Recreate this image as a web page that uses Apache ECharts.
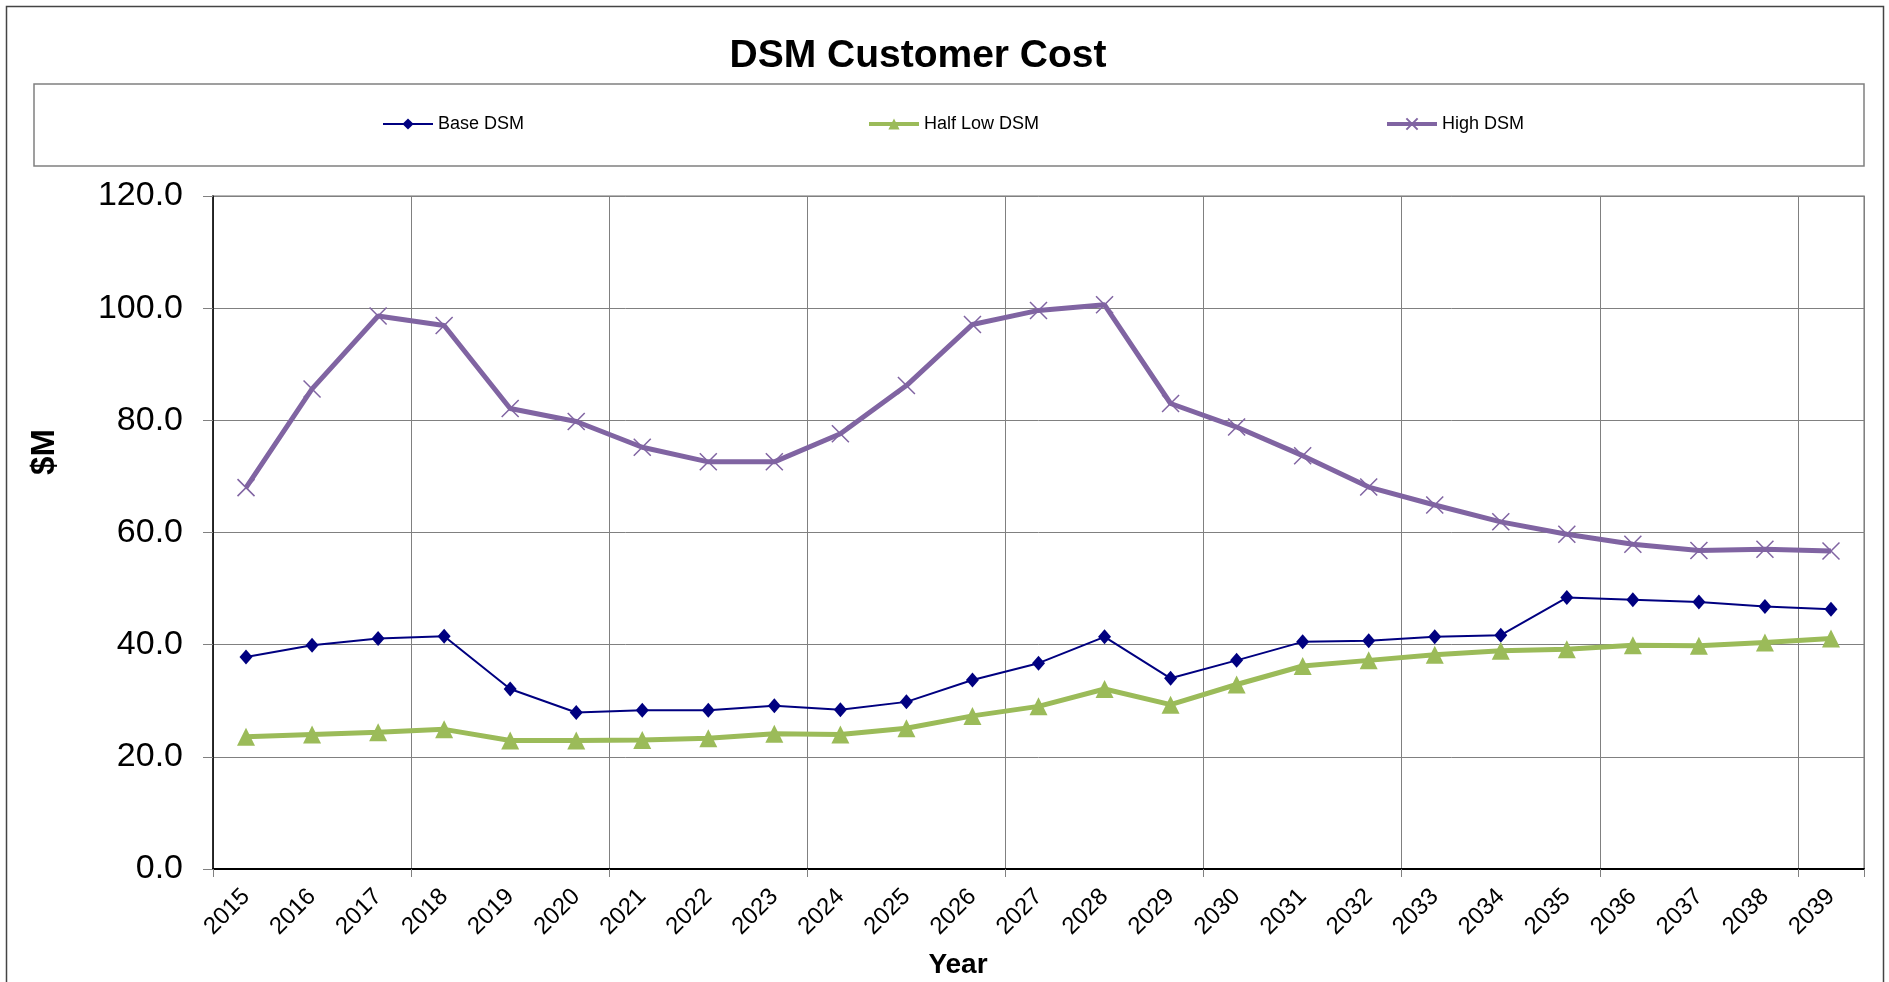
<!DOCTYPE html>
<html>
<head>
<meta charset="utf-8">
<title>DSM Customer Cost</title>
<script src="https://cdn.jsdelivr.net/npm/echarts@6/dist/echarts.min.js"></script>
<style>
  html, body { margin: 0; padding: 0; background: #fff; }
  #chart { width: 1889px; height: 982px; }
</style>
</head>
<body>
<div id="chart"></div>
<script>
// data
var years = ['2015', '2016', '2017', '2018', '2019', '2020', '2021', '2022', '2023',
  '2024', '2025', '2026', '2027', '2028', '2029', '2030', '2031', '2032', '2033',
  '2034', '2035', '2036', '2037', '2038', '2039']
var baseDsm = [37.8, 39.9, 41.1, 41.5, 32.1, 27.9, 28.3, 28.3, 29.1, 28.4, 29.8, 33.7,
  36.7, 41.4, 34.0, 37.2, 40.5, 40.7, 41.4, 41.7, 48.4, 48.0, 47.6, 46.8, 46.3]
var halfLowDsm = [23.6, 24.0, 24.4, 24.9, 22.9, 22.9, 23.0, 23.3, 24.1, 24.0, 25.1, 27.3,
  29.0, 32.1, 29.3, 32.9, 36.2, 37.2, 38.2, 38.9, 39.2, 39.9, 39.8, 40.4, 41.1]
var highDsm = [68.0, 85.6, 98.6, 96.9, 82.1, 79.8, 75.2, 72.6, 72.6, 77.6, 86.2, 97.1,
  99.6, 100.6, 83.0, 78.8, 73.7, 68.1, 64.9, 61.9, 59.7, 57.9, 56.8, 57.0, 56.7]
var yTicks = { min: 0, max: 120, step: 20 }

var FONT = 'Liberation Sans, Arial, sans-serif'
var chart = echarts.init(document.getElementById('chart'))

function legendAt(name, x, lineWidth) {
  return {
    data: [name],
    left: x,
    top: 115,
    padding: 0,
    itemWidth: 50,
    itemHeight: 14,
    itemGap: 5,
    lineStyle: { width: lineWidth },
    textStyle: { color: '#000', fontSize: 18, fontFamily: FONT }
  }
}

chart.setOption({
  animation: false,
  backgroundColor: '#fff',
  title: {
    text: 'DSM Customer Cost',
    left: 913,
    textAlign: 'center',
    top: 32,
    textStyle: { fontFamily: FONT, fontSize: 39, fontWeight: 'bold', color: '#000' }
  },
  legend: [
    legendAt('Base DSM', 382, 2),
    legendAt('Half Low DSM', 867, 4),
    legendAt('High DSM', 1385, 4)
  ],
  grid: {
    left: 213,
    right: 25,
    top: 196,
    bottom: 113,
    show: true,
    borderColor: '#a0a0a0',
    borderWidth: 1.5
  },
  xAxis: {
    type: 'category',
    data: years,
    boundaryGap: true,
    axisLine: { lineStyle: { color: '#000', width: 2 } },
    axisTick: { show: true, interval: 2, length: 8, lineStyle: { color: '#808080' } },
    splitLine: { show: true, interval: 2, lineStyle: { color: '#808080', width: 1 } },
    axisLabel: {
      interval: 0,
      rotate: 45,
      margin: 24,
      color: '#000',
      fontSize: 24,
      fontFamily: FONT
    }
  },
  yAxis: {
    type: 'value',
    min: yTicks.min,
    max: yTicks.max,
    interval: yTicks.step,
    axisLine: { show: true, lineStyle: { color: '#000', width: 1.5 } },
    axisTick: { show: true, length: 10, lineStyle: { color: '#808080' } },
    splitLine: { show: true, lineStyle: { color: '#808080', width: 1 } },
    axisLabel: {
      margin: 30,
      color: '#000',
      fontSize: 34,
      fontFamily: FONT,
      formatter: function (v) { return v.toFixed(1) }
    }
  },
  graphic: [
    {
      type: 'rect',
      silent: true,
      shape: { x: 6.5, y: 6.5, width: 1877, height: 1000 },
      style: { fill: null, stroke: '#444', lineWidth: 1.5 }
    },
    {
      type: 'rect',
      silent: true,
      shape: { x: 34, y: 84, width: 1830, height: 82 },
      style: { fill: null, stroke: '#808080', lineWidth: 1.5 }
    },
    {
      type: 'text',
      x: 45,
      y: 452,
      rotation: Math.PI / 2,
      style: {
        text: '$M',
        font: 'bold 33px ' + FONT,
        fill: '#000',
        align: 'center',
        verticalAlign: 'middle'
      }
    },
    {
      type: 'text',
      x: 958,
      y: 965,
      style: {
        text: 'Year',
        font: 'bold 28px ' + FONT,
        fill: '#000',
        align: 'center',
        verticalAlign: 'middle'
      }
    }
  ],
  series: [
    {
      name: 'Base DSM',
      type: 'line',
      data: baseDsm,
      symbol: 'diamond',
      symbolSize: [13, 15],
      lineStyle: { color: '#000080', width: 2 },
      itemStyle: { color: '#000080' }
    },
    {
      name: 'Half Low DSM',
      type: 'line',
      data: halfLowDsm,
      symbol: 'triangle',
      symbolSize: 18,
      lineStyle: { color: '#9BBB59', width: 5 },
      itemStyle: { color: '#9BBB59' }
    },
    {
      name: 'High DSM',
      type: 'line',
      data: highDsm,
      symbol: 'path://M0,0L10,10M10,0L0,10',
      symbolSize: 17,
      lineStyle: { color: '#8064A2', width: 5 },
      itemStyle: { color: '#8064A2', borderColor: '#8064A2', borderWidth: 1.5 }
    }
  ]
})
</script>
</body>
</html>
